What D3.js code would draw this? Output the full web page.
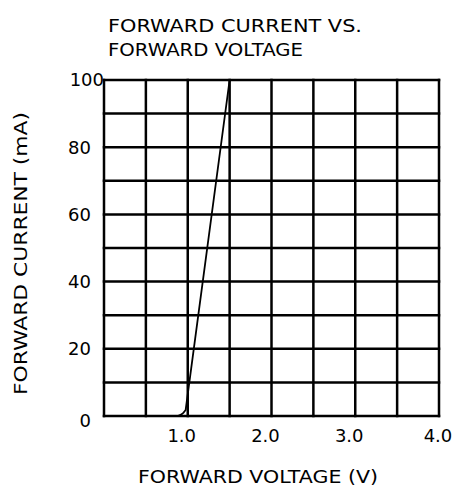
<!DOCTYPE html>
<html><head><meta charset="utf-8">
<script src="https://cdn.jsdelivr.net/npm/d3@7"></script>
<style>body{margin:0;background:#fff}svg{display:block}text{font-family:"DejaVu Sans",sans-serif;fill:#000}</style>
</head><body>
<script>
const titleLines = ["FORWARD CURRENT VS.", "FORWARD VOLTAGE"];
const xTitle = "FORWARD VOLTAGE (V)";
const yTitle = "FORWARD CURRENT (mA)";
const xLabelTicks = [1.0, 2.0, 3.0, 4.0];
const yLabelTicks = [0, 20, 40, 60, 80, 100];
const xGrid = [0, 0.5, 1.0, 1.5, 2.0, 2.5, 3.0, 3.5, 4.0];
const yGrid = [0, 10, 20, 30, 40, 50, 60, 70, 80, 90, 100];
const voltage = [0.88, 0.92, 0.95, 0.975, 1.5];
const current = [0, 0.4, 1.0, 1.8, 100];

const W = 465, H = 496;
const svg = d3.select("body").append("svg").attr("width", W).attr("height", H);
const x = d3.scaleLinear().domain([0, 4]).range([104, 439]);
const y = d3.scaleLinear().domain([0, 100]).range([416, 80]);

// grid
const g = svg.append("g").attr("stroke", "#000").attr("stroke-width", 2.5).attr("stroke-linecap", "square");
g.selectAll("line.v").data(xGrid).join("line").attr("class","v")
  .attr("x1", d => x(d)).attr("x2", d => x(d)).attr("y1", y(0)).attr("y2", y(100));
g.selectAll("line.h").data(yGrid).join("line").attr("class","h")
  .attr("x1", x(0)).attr("x2", x(4)).attr("y1", d => y(d)).attr("y2", d => y(d));

// curve
const pts = voltage.map((v, i) => [v, current[i]]);
svg.append("path").datum(pts)
  .attr("fill", "none").attr("stroke", "#000").attr("stroke-width", 1.8)
  .attr("d", d3.line().x(d => x(d[0])).y(d => y(d[1])).curve(d3.curveLinear));

// y tick labels
svg.selectAll("text.yt").data(yLabelTicks).join("text").attr("class","yt")
  .attr("x", d => d === 100 ? 104 : 91)
  .attr("y", d => y(d) + (d === 0 ? 5 : 0))
  .attr("dy", "0.36em").attr("text-anchor", "end").attr("font-size", 18)
  .text(d => d);

// x tick labels
svg.selectAll("text.xt").data(xLabelTicks).join("text").attr("class","xt")
  .attr("x", d => x(d) - (d === 4 ? 1 : 6))
  .attr("y", 442).attr("text-anchor", "middle").attr("font-size", 18)
  .text(d => d.toFixed(1));

// titles
svg.selectAll("text.title").data(titleLines).join("text").attr("class","title")
  .attr("x", 108).attr("y", (d, i) => 32 + i * 23.5).attr("font-size", 18.5)
  .attr("textLength", (d, i) => i === 0 ? 254 : 195).attr("lengthAdjust", "spacingAndGlyphs")
  .text(d => d);

svg.append("text").attr("x", 138).attr("y", 483).attr("font-size", 18)
  .attr("textLength", 240).attr("lengthAdjust", "spacingAndGlyphs").text(xTitle);

svg.append("text").attr("transform", "translate(27,395) rotate(-90)").attr("font-size", 17)
  .attr("textLength", 283).attr("lengthAdjust", "spacingAndGlyphs").text(yTitle);
</script>
</body></html>
